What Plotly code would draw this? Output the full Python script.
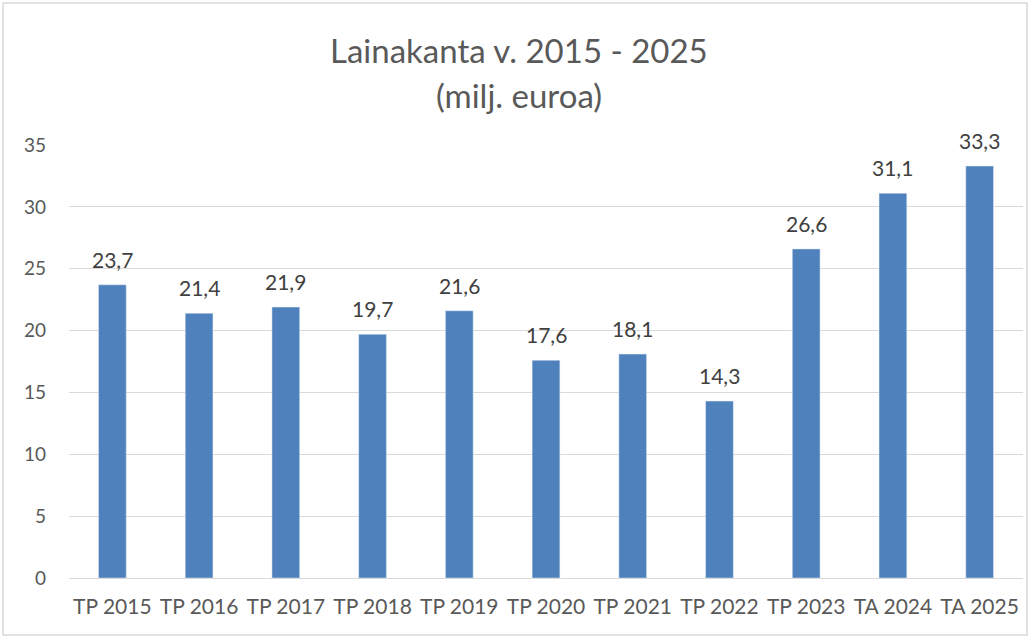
import plotly.graph_objects as go

categories = ["TP 2015", "TP 2016", "TP 2017", "TP 2018", "TP 2019", "TP 2020",
              "TP 2021", "TP 2022", "TP 2023", "TA 2024", "TA 2025"]
values = [23.7, 21.4, 21.9, 19.7, 21.6, 17.6, 18.1, 14.3, 26.6, 31.1, 33.3]
labels = [f"{v:.1f}".replace(".", ",") for v in values]
y_ticks = [0, 5, 10, 15, 20, 25, 30, 35]
title_lines = ["Lainakanta v. 2015 - 2025", "(milj. euroa)"]

W, H = 1029, 637
ml, mr, mt, mb = 69, 6, 145, 59
pw, ph = W - ml - mr, H - mt - mb

fig = go.Figure(go.Bar(
    x=categories, y=values,
    marker=dict(color="#4F81BD"), cliponaxis=False,
))

annotations = []
for c, v, t in zip(categories, values, labels):
    annotations.append(dict(x=c, y=v, text=t, showarrow=False, xref="x", yref="y",
                            yanchor="bottom", yshift=11,
                            font=dict(size=21, color="#404040")))
for i, line in enumerate(title_lines):
    ypix = [50, 95][i]
    annotations.append(dict(x=(519 - ml) / pw, xref="paper", yref="paper",
                            xanchor="center",
                            y=1 + (mt - ypix) / ph, yanchor="middle",
                            text=line, showarrow=False,
                            font=dict(size=33, color="#595959")))

fig.update_layout(
    width=W, height=H,
    margin=dict(l=ml, r=mr, t=mt, b=mb),
    paper_bgcolor="white", plot_bgcolor="white",
    font=dict(family="Lato, Open Sans, sans-serif", color="#595959"),
    bargap=0.68,
    showlegend=False,
    annotations=annotations,
    xaxis=dict(showgrid=False, showline=True, linecolor="#D9D9D9", linewidth=1,
               tickfont=dict(size=21, color="#595959"), ticks="",
               ticklabelstandoff=10),
    yaxis=dict(range=[0, 35], tickvals=y_ticks, showgrid=True, gridcolor="#D9D9D9",
               gridwidth=1, zeroline=False, showline=False, ticks="",
               tickfont=dict(size=19, color="#595959"), ticklabelstandoff=22),
    shapes=[dict(type="rect", xref="paper", yref="paper",
                 x0=(3 - ml) / pw, x1=(W - 2 - ml) / pw,
                 y0=-(H - 2 - mt - ph) / ph, y1=1 + (mt - 3) / ph,
                 line=dict(color="#D9D9D9", width=1.5))],
)

fig.write_html("out.html", config={"displayModeBar": False},
               post_script="document.body.style.margin='0';document.body.style.overflow='hidden';")
